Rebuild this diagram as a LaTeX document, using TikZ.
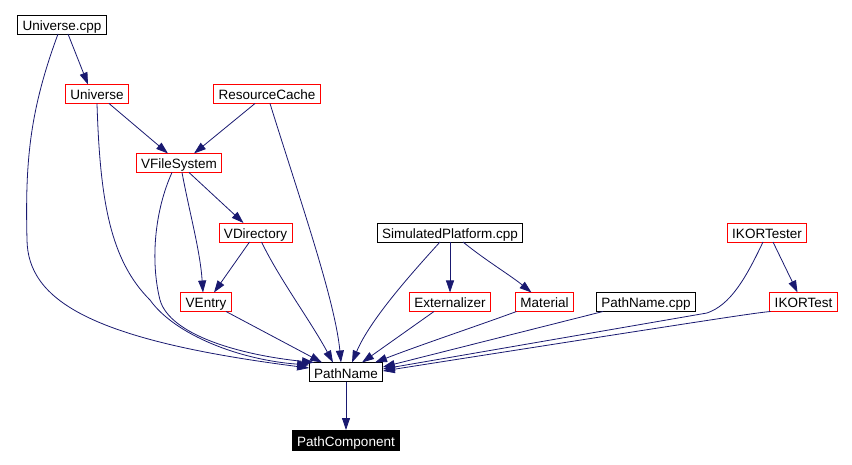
\documentclass[tikz,border=0pt]{standalone}
\usepackage{fontspec}
\setsansfont{Liberation Sans}
\usetikzlibrary{arrows.meta}

\definecolor{edgeblue}{RGB}{25,25,112}

\begin{document}
\begin{tikzpicture}[
			x=1pt, y=-1pt,
			filebox/.style={rectangle, minimum height=19pt, text height=15.5pt, text depth=3.5pt, inner xsep=5pt, inner ysep=0pt, outer sep=0pt, draw=black, line width=0.9pt, fill=white, font=\sffamily\fontsize{13.5}{15}\selectfont},
			classbox/.style={filebox, draw=red},
			leafbox/.style={filebox, fill=black, text=white, minimum height=20pt, text height=16pt, text depth=4pt},
			arrow/.style={draw=edgeblue, line width=0.8pt, -{Triangle[length=12pt,width=8pt]}}
		]
		\useasboundingbox (0,0) rectangle (852,465);

		% --- RIGA 1 ---
		\node (univ_cpp) [filebox] at (62,24.5) {Universe.cpp};

		% --- RIGA 2 ---
		\node (univ) [classbox] at (97,94) {Universe};
		\node (res_cache) [classbox] at (267,94) {ResourceCache};

		% --- RIGA 3 ---
		\node (vfs) [classbox] at (179,163) {VFileSystem};

		% --- RIGA 4 ---
		\node (vdir) [classbox] at (255.5,232.5) {VDirectory};
		\node (sim_cpp) [filebox] at (450,232.5) {SimulatedPlatform.cpp};
		\node (ikor_tester) [classbox] at (767,232.5) {IKORTester};

		% --- RIGA 5 ---
		\node (ventry) [classbox] at (206,302) {VEntry};
		\node (extern) [classbox] at (450,302) {Externalizer};
		\node (material) [classbox] at (544.5,302) {Material};
		\node (pn_cpp) [filebox] at (646,302) {PathName.cpp};
		\node (ikor_test) [classbox] at (803.5,302) {IKORTest};

		% --- RIGA 6 e 7 ---
		\node (pathname) [filebox] at (346,372) {PathName};
		\node (pathcomp) [leafbox] at (346,440) {PathComponent};

		% --- COLLEGAMENTI ---
		% Universe.cpp
		\draw [arrow] ([xshift=6pt]univ_cpp.south) -- ([xshift=-9pt]univ.north);
		\draw [arrow] ([xshift=-4pt]univ_cpp.south) .. controls (30,110) and (25,160) .. (27,240) .. controls (28,300) and (90,340) .. ([yshift=4pt]pathname.west);

		% Universe e ResourceCache
		\draw [arrow] ([xshift=12pt]univ.south) -- ([xshift=-11pt]vfs.north);
		\draw [arrow] (univ.south) .. controls (100,200) and (110,260) .. (150,300) .. controls (175,335) and (240,360) .. ([yshift=7pt]pathname.west);
		\draw [arrow] ([xshift=-12pt]res_cache.south) -- ([xshift=15pt]vfs.north);
		\draw [arrow] ([xshift=3pt]res_cache.south) .. controls (300,200) and (335,300) .. ([xshift=-5pt]pathname.north);

		% VFileSystem
		\draw [arrow] ([xshift=10pt]vfs.south) -- ([xshift=-12pt]vdir.north);
		\draw [arrow] ([xshift=3pt]vfs.south) .. controls (190,215) and (200,250) .. ([xshift=-3pt]ventry.north);
		\draw [arrow] ([xshift=-7pt]vfs.south) .. controls (155,210) and (150,260) .. (160,300) .. controls (170,335) and (240,355) .. ([xshift=-32pt]pathname.north);

		% VDirectory e VEntry
		\draw [arrow] ([xshift=-6pt]vdir.south) -- ([xshift=8pt]ventry.north);
		\draw [arrow] ([xshift=6pt]vdir.south) .. controls (280,280) and (310,320) .. ([xshift=-13pt]pathname.north);
		\draw [arrow] ([xshift=20pt]ventry.south) -- ([xshift=-24pt]pathname.north);

		% SimulatedPlatform.cpp
		\draw [arrow] (sim_cpp.south) -- (extern.north);
		\draw [arrow] ([xshift=13pt]sim_cpp.south) .. controls (485,260) and (510,275) .. ([xshift=-13pt]material.north);
		\draw [arrow] ([xshift=-10pt]sim_cpp.south) .. controls (410,275) and (370,320) .. ([xshift=6pt]pathname.north);
		\draw [arrow] ([xshift=-16pt]extern.south) -- ([xshift=16pt]pathname.north);
		\draw [arrow] ([xshift=-28pt]material.south) .. controls (480,325) and (420,345) .. ([xshift=29pt]pathname.north);
		\draw [arrow] ([xshift=-43pt]pn_cpp.south) -- ([yshift=5pt]pathname.east);

		% IKORTester e IKORTest
		\draw [arrow] ([xshift=6pt]ikor_tester.south) -- ([xshift=-6pt]ikor_test.north);
		\draw [arrow] ([xshift=-4pt]ikor_tester.south) .. controls (745,280) and (730,305) .. (707,313) -- ([yshift=3pt]pathname.east);
		\draw [arrow] ([xshift=-33pt]ikor_test.south) .. controls (755,313) and (740,315) .. ([yshift=1pt]pathname.east);

		% PathName
		\draw [arrow] (pathname.south) -- (pathcomp.north);
	\end{tikzpicture}
\end{document}
